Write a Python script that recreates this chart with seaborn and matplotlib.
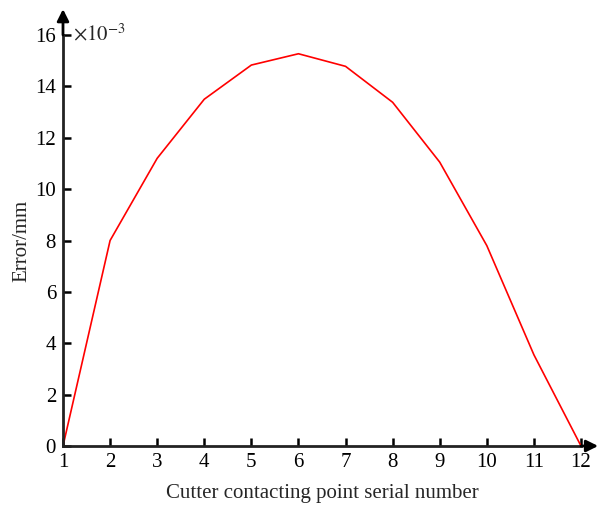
import matplotlib
matplotlib.use("Agg")
import matplotlib.pyplot as plt
import seaborn as sns
import pandas as pd

points = [1, 2, 3, 4, 5, 6, 7, 8, 9, 10, 11, 12]
error_e3 = [0.0, 8.0, 11.2, 13.5, 14.83, 15.27, 14.78, 13.38, 11.05, 7.8, 3.55, 0.0]
yticks = [0, 2, 4, 6, 8, 10, 12, 14, 16]

sns.set_style("ticks")
plt.rcParams['font.family'] = ['Liberation Serif', 'DejaVu Serif']
plt.rcParams['mathtext.fontset'] = 'stix'

df = pd.DataFrame({"point": points, "error": error_e3})

fig = plt.figure(figsize=(5.97, 5.08), dpi=100)
W, H = 597, 508
ax = fig.add_axes([63 / W, 1 - 446 / H, (581 - 63) / W, (446 - 35) / H])
sns.lineplot(data=df, x="point", y="error", ax=ax, color="#ff0000", linewidth=1.2)

ax.set_xlim(1, 12)
ax.set_ylim(0, 16)
ax.set_xticks(points)
ax.set_yticks(yticks)
ax.tick_params(direction="in", length=6, width=1.8, labelsize=15, colors="black", pad=5)
for s in ["top", "right"]:
    ax.spines[s].set_visible(False)
for s in ["left", "bottom"]:
    ax.spines[s].set_linewidth(2.0)
    ax.spines[s].set_color("#222222")

# axis arrows
ax.annotate("", xy=(1.033, 0), xytext=(1.0, 0), xycoords="axes fraction",
            arrowprops=dict(arrowstyle="-|>,head_length=0.7,head_width=0.35", color="black", lw=2.0, shrinkA=0, shrinkB=0),
            annotation_clip=False)
ax.annotate("", xy=(0, 1.063), xytext=(0, 1.0), xycoords="axes fraction",
            arrowprops=dict(arrowstyle="-|>,head_length=0.7,head_width=0.35", color="black", lw=2.0, shrinkA=0, shrinkB=0),
            annotation_clip=False)

ax.text(0.02, 1.0, r"$\times 10^{-3}$", transform=ax.transAxes, fontsize=15, va="center", ha="left")

ax.set_xlabel("Cutter contacting point serial number", fontsize=15, labelpad=9)
ax.set_ylabel("Error/mm", fontsize=15, labelpad=3)

fig.savefig("out.png", dpi=100)
